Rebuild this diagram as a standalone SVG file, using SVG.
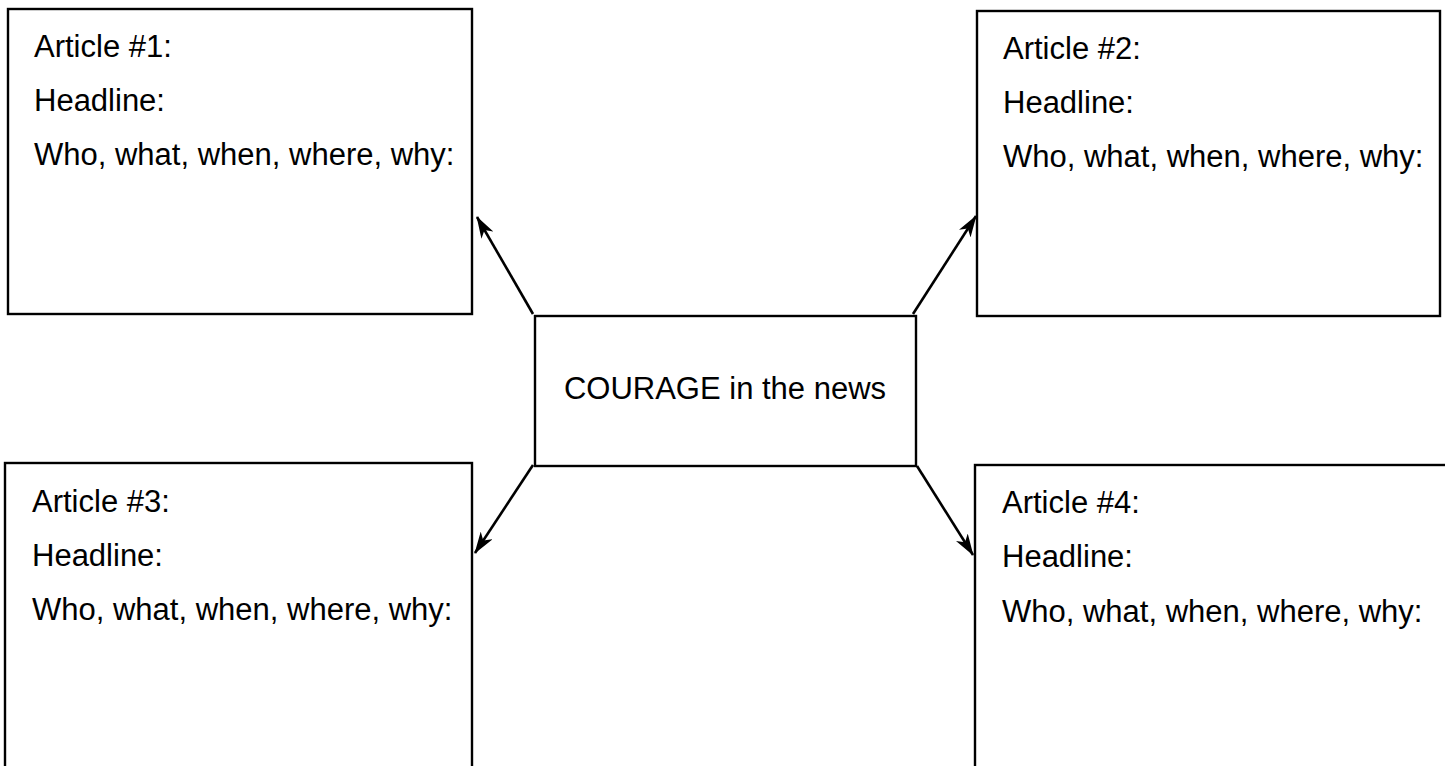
<svg xmlns="http://www.w3.org/2000/svg" width="1445" height="766" viewBox="0 0 1445 766">
<style>
.box{fill:#fff;stroke:#000;stroke-width:2.4}
.t{font-family:"Liberation Sans",Arial,sans-serif;font-size:31px;fill:#000}
.conn{stroke:#000;stroke-width:2.6;fill:none}
</style>
<defs>
<marker id="arr" viewBox="0 0 22 14" refX="21" refY="7" markerWidth="22" markerHeight="14" markerUnits="userSpaceOnUse" orient="auto">
<path d="M0,0 L22,7 L0,14 L6,7 z" fill="#000"/>
</marker>
</defs>
<rect width="1445" height="766" fill="#fff"/>
<g id="article1">
<rect class="box" x="8" y="9" width="464" height="305"/>
<text class="t" x="34" y="57">Article #1:</text>
<text class="t" x="34" y="111">Headline:</text>
<text class="t" x="34" y="165">Who, what, when, where, why:</text>
</g>
<g id="article2">
<rect class="box" x="977" y="11" width="463" height="305"/>
<text class="t" x="1003" y="59">Article #2:</text>
<text class="t" x="1003" y="113">Headline:</text>
<text class="t" x="1003" y="167">Who, what, when, where, why:</text>
</g>
<g id="article3">
<rect class="box" x="5" y="463" width="467" height="320"/>
<text class="t" x="32" y="512">Article #3:</text>
<text class="t" x="32" y="566">Headline:</text>
<text class="t" x="32" y="620">Who, what, when, where, why:</text>
</g>
<g id="article4">
<rect class="box" x="975" y="465" width="480" height="320"/>
<text class="t" x="1002" y="513">Article #4:</text>
<text class="t" x="1002" y="567">Headline:</text>
<text class="t" x="1002" y="622">Who, what, when, where, why:</text>
</g>
<g id="center">
<rect class="box" x="535" y="316" width="381" height="150"/>
<text class="t" x="725" y="399" text-anchor="middle">COURAGE in the news</text>
</g>
<g id="connectors">
<line class="conn" x1="533" y1="314" x2="477" y2="217" marker-end="url(#arr)"/>
<line class="conn" x1="913" y1="314" x2="976" y2="216" marker-end="url(#arr)"/>
<line class="conn" x1="533" y1="465" x2="475" y2="553" marker-end="url(#arr)"/>
<line class="conn" x1="917" y1="466" x2="973" y2="555" marker-end="url(#arr)"/>
</g>
</svg>
